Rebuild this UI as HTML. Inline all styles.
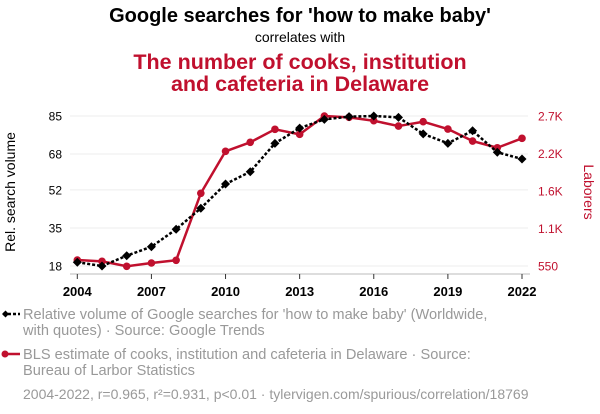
<!DOCTYPE html>
<html><head><meta charset="utf-8"><style>
body{margin:0;background:#fff;}
svg{display:block;font-family:"Liberation Sans",Arial,sans-serif;}
</style></head><body>
<svg id="chart" width="600" height="414" viewBox="0 0 600 414">
<text x="300" y="22" text-anchor="middle" font-size="20" font-weight="bold" fill="#000">Google searches for 'how to make baby'</text>
<text x="300" y="42" text-anchor="middle" font-size="14" fill="#000">correlates with</text>
<text x="300" y="69" text-anchor="middle" font-size="21.5" font-weight="bold" fill="#c0102e">The number of cooks, institution</text>
<text x="300" y="91" text-anchor="middle" font-size="21.5" font-weight="bold" fill="#c0102e">and cafeteria in Delaware</text>
<g id="grid"></g>
<g id="axes"></g>
<g id="series"></g>
<text transform="translate(15,192) rotate(-90)" text-anchor="middle" font-size="14" fill="#000">Rel. search volume</text>
<text transform="translate(584,192) rotate(90)" text-anchor="middle" font-size="14" fill="#c0102e">Laborers</text>
<g>
<line x1="3" y1="314" x2="20" y2="314" stroke="#000" stroke-width="2.5" stroke-dasharray="3,2"/>
<path d="M2,314 L5.5,310.5 L9,314 L5.5,317.5Z" fill="#000"/>
<text x="23" y="319" font-size="14.6" fill="#999">Relative volume of Google searches for 'how to make baby' (Worldwide,</text>
<text x="23" y="335" font-size="14.6" fill="#999">with quotes) · Source: Google Trends</text>
</g>
<g>
<line x1="3" y1="354" x2="20" y2="354" stroke="#c0102e" stroke-width="2.5"/>
<circle cx="5" cy="354" r="3.5" fill="#c0102e"/>
<text x="23" y="359" font-size="14.6" fill="#999">BLS estimate of cooks, institution and cafeteria in Delaware · Source:</text>
<text x="23" y="375" font-size="14.6" fill="#999">Bureau of Larbor Statistics</text>
</g>
<text x="23" y="399" font-size="14" fill="#999">2004-2022, r=0.965, r²=0.931, p&lt;0.01 · tylervigen.com/spurious/correlation/18769</text>
</svg>
<script>
const years=[2004,2005,2006,2007,2008,2009,2010,2011,2012,2013,2014,2015,2016,2017,2018,2019,2020,2021,2022];
const searches=[19.7,18,22.6,26.6,34.4,43.8,54.6,60.1,72.8,79.6,83.5,84.7,85,84.4,77,72.8,78.4,68.8,65.8];
const laborers=[636,617,546,593,632,1592,2194,2323,2509,2437,2700,2681,2632,2556,2618,2513,2341,2245,2380];
const leftTicks=[18,35,52,68,85];
const rightTickVals=[550,1087.5,1625,2162.5,2700];
const rightTickLabels=["550","1.1K","1.6K","2.2K","2.7K"];
const xTicks=[2004,2007,2010,2013,2016,2019,2022];

const NS="http://www.w3.org/2000/svg";
const X0=77.3,X1=522,YT=116,YB=266;
const x=v=>X0+(v-2004)/(2022-2004)*(X1-X0);
const yL=v=>YB-(v-18)/(85-18)*(YB-YT);
const yR=v=>YB-(v-550)/(2700-550)*(YB-YT);
function mk(tag,attrs,parent){const e=document.createElementNS(NS,tag);for(const k in attrs)e.setAttribute(k,attrs[k]);parent.appendChild(e);return e;}
const grid=document.getElementById('grid'),axes=document.getElementById('axes'),series=document.getElementById('series');
leftTicks.forEach((t,i)=>{
  const g=mk('line',{x1:70,x2:528,y1:yL(t),y2:yL(t),stroke:'#eeeeee','stroke-width':1},grid);
  
  
  const tx=mk('text',{x:62,y:yL(t)+4.5,'text-anchor':'end','font-size':12,fill:'#000'},axes);
  tx.textContent=t;
  
  
});
rightTickVals.forEach((t,i)=>{
  const tx=mk('text',{x:538,y:yR(t)+4.5,'font-size':12,fill:'#c0102e'},axes);
  tx.textContent=rightTickLabels[i];
  
  
});
const ax=mk('line',{x1:70,x2:530,y1:274,y2:274,stroke:'#bbb','stroke-width':1},axes);


xTicks.forEach(t=>{
  const l=mk('line',{x1:x(t),x2:x(t),y1:274,y2:279,stroke:'#333','stroke-width':1},axes);
  
  
  const tx=mk('text',{x:x(t),y:296,'text-anchor':'middle','font-size':13,'font-weight':'bold',fill:'#000'},axes);
  tx.textContent=t;
  
  
});
const rp=mk('polyline',{points:years.map((yr,i)=>x(yr)+','+yR(laborers[i])).join(' '),fill:'none',stroke:'#c0102e','stroke-width':2.5,'stroke-linejoin':'round'},series);


years.forEach((yr,i)=>{
  const c=mk('circle',{cx:x(yr),cy:yR(laborers[i]),r:3.8,fill:'#c0102e'},series);
  
  
});
const bp=mk('polyline',{points:years.map((yr,i)=>x(yr)+','+yL(searches[i])).join(' '),fill:'none',stroke:'#000','stroke-width':2.5,'stroke-dasharray':'3,2'},series);


years.forEach((yr,i)=>{
  const cx=x(yr),cy=yL(searches[i]);
  const d=mk('path',{d:`M${cx-4.5},${cy} L${cx},${cy-4.5} L${cx+4.5},${cy} L${cx},${cy+4.5}Z`,fill:'#000'},series);
  
  
});
</script>
</body></html>
